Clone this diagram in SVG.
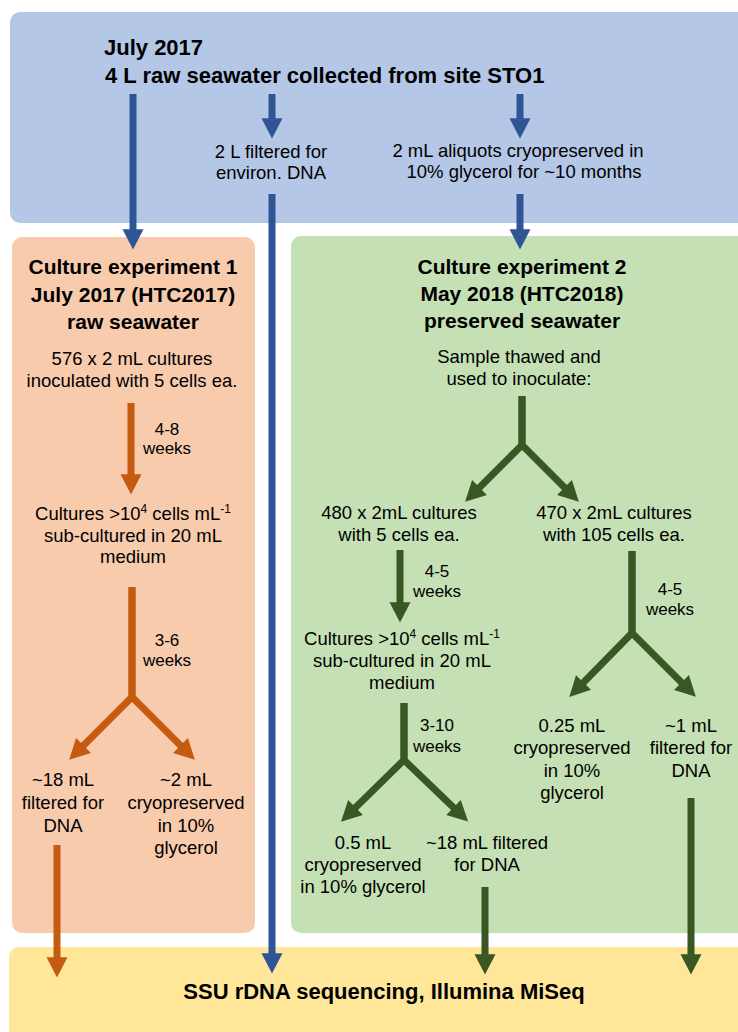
<svg xmlns="http://www.w3.org/2000/svg" width="738" height="1032" viewBox="0 0 738 1032">
<style>
text{font-family:"Liberation Sans",Arial,sans-serif;fill:#000;}
.b{font-weight:bold;}
.t22{font-size:22px;}
.t21{font-size:21px;}
.t{font-size:18.5px;text-anchor:middle;}
.w{font-size:17px;text-anchor:middle;}
.c{text-anchor:middle;}
.sup{font-size:12px;}
.ab{stroke:#2f5597;stroke-width:7;fill:none;marker-end:url(#hb);}
.ao{stroke:#c55a11;stroke-width:7;fill:none;marker-end:url(#ho);stroke-linejoin:miter;}
.ag{stroke:#385723;stroke-width:7;fill:none;marker-end:url(#hg);stroke-linejoin:miter;}
</style>
<defs>
<marker id="hb" markerWidth="3" markerHeight="3" refX="0.1" refY="1.5" orient="auto" markerUnits="strokeWidth" overflow="visible"><path d="M0,0 L2.9,1.5 L0,3 z" fill="#2f5597"/></marker>
<marker id="ho" markerWidth="3" markerHeight="3" refX="0.1" refY="1.5" orient="auto" markerUnits="strokeWidth" overflow="visible"><path d="M0,0 L2.9,1.5 L0,3 z" fill="#c55a11"/></marker>
<marker id="hg" markerWidth="3" markerHeight="3" refX="0.1" refY="1.5" orient="auto" markerUnits="strokeWidth" overflow="visible"><path d="M0,0 L2.9,1.5 L0,3 z" fill="#385723"/></marker>
</defs>
<rect width="738" height="1032" fill="#ffffff"/>

<g id="sampling">
<rect x="10" y="12" width="760" height="211" rx="10" fill="#b4c7e7"/>
<text class="b t22" x="104" y="55">July 2017</text>
<text class="b t22" x="105" y="83">4 L raw seawater collected from site STO1</text>
</g>

<g id="env-dna">
<text class="t" x="271" y="158">2 L filtered for</text>
<text class="t" x="271" y="179">environ. DNA</text>
</g>

<g id="cryo-aliquots">
<text class="t" x="518" y="157">2 mL aliquots cryopreserved in</text>
<text class="t" x="524" y="178">10% glycerol for ~10 months</text>
</g>

<g id="experiment1">
<rect x="12" y="237" width="243" height="696" rx="10" fill="#f8cbad"/>
<text class="b t21 c" x="133" y="274">Culture experiment 1</text>
<text class="b t21 c" x="133" y="302">July 2017 (HTC2017)</text>
<text class="b t21 c" x="133" y="329">raw seawater</text>
<text class="t" x="132" y="365">576 x 2 mL cultures</text>
<text class="t" x="132" y="387">inoculated with 5 cells ea.</text>
<text class="w" x="167" y="435">4-8</text>
<text class="w" x="167" y="454">weeks</text>
<text class="t" x="133" y="520">Cultures &gt;10<tspan class="sup" dy="-7">4</tspan><tspan dy="7"> cells mL</tspan><tspan class="sup" dy="-7">-1</tspan></text>
<text class="t" x="133" y="542">sub-cultured in 20 mL</text>
<text class="t" x="133" y="563">medium</text>
<text class="w" x="167" y="646">3-6</text>
<text class="w" x="167" y="666">weeks</text>
<text class="t" x="63" y="786">~18 mL</text>
<text class="t" x="63" y="809">filtered for</text>
<text class="t" x="63" y="832">DNA</text>
<text class="t" x="186" y="786">~2 mL</text>
<text class="t" x="186" y="809">cryopreserved</text>
<text class="t" x="186" y="832">in 10%</text>
<text class="t" x="186" y="854">glycerol</text>
</g>

<g id="experiment2">
<rect x="291" y="236" width="470" height="697" rx="10" fill="#c5e0b4"/>
<text class="b t21 c" x="522" y="274">Culture experiment 2</text>
<text class="b t21 c" x="522" y="301">May 2018 (HTC2018)</text>
<text class="b t21 c" x="522" y="328">preserved seawater</text>
<text class="t" x="519" y="363">Sample thawed and</text>
<text class="t" x="519" y="385">used to inoculate:</text>
<text class="t" x="399" y="519">480 x 2mL cultures</text>
<text class="t" x="399" y="541">with 5 cells ea.</text>
<text class="t" x="614" y="519">470 x 2mL cultures</text>
<text class="t" x="614" y="541">with 105 cells ea.</text>
<text class="w" x="437" y="577">4-5</text>
<text class="w" x="437" y="597">weeks</text>
<text class="t" x="402" y="645">Cultures &gt;10<tspan class="sup" dy="-7">4</tspan><tspan dy="7"> cells mL</tspan><tspan class="sup" dy="-7">-1</tspan></text>
<text class="t" x="402" y="667">sub-cultured in 20 mL</text>
<text class="t" x="402" y="689">medium</text>
<text class="w" x="437" y="731">3-10</text>
<text class="w" x="437" y="752">weeks</text>
<text class="w" x="670" y="595">4-5</text>
<text class="w" x="670" y="615">weeks</text>
<text class="t" x="363" y="849">0.5 mL</text>
<text class="t" x="363" y="871">cryopreserved</text>
<text class="t" x="363" y="893">in 10% glycerol</text>
<text class="t" x="487" y="849">~18 mL filtered</text>
<text class="t" x="487" y="871">for DNA</text>
<text class="t" x="572" y="732">0.25 mL</text>
<text class="t" x="572" y="754">cryopreserved</text>
<text class="t" x="572" y="777">in 10%</text>
<text class="t" x="572" y="799">glycerol</text>
<text class="t" x="691" y="732">~1 mL</text>
<text class="t" x="691" y="754">filtered for</text>
<text class="t" x="691" y="777">DNA</text>
</g>

<g id="sequencing">
<rect x="9" y="947" width="760" height="100" rx="10" fill="#ffe699"/>
<text class="b t22 c" x="384" y="999">SSU rDNA sequencing, Illumina MiSeq</text>
</g>

<g id="connectors">
<path class="ab" d="M133,94 V230"/>
<path class="ab" d="M272,94 V119"/>
<path class="ab" d="M520,94 V119"/>
<path class="ab" d="M272,194 V954"/>
<path class="ab" d="M520,194 V230"/>
<path class="ao" d="M131,403 V475"/>
<path class="ao" d="M132,587 V697 L83,746"/>
<path class="ao" d="M132,587 V697 L181,746"/>
<path class="ao" d="M57,845 V958"/>
<path class="ag" d="M522,396 V445 L479,488"/>
<path class="ag" d="M522,396 V445 L565,488"/>
<path class="ag" d="M400,550 V603"/>
<path class="ag" d="M404,703 V760 L355,808"/>
<path class="ag" d="M404,703 V760 L454,808"/>
<path class="ag" d="M632,551 V633 L583,683"/>
<path class="ag" d="M632,551 V633 L682,683"/>
<path class="ag" d="M485,887 V955"/>
<path class="ag" d="M691,798 V955"/>
</g>
</svg>
